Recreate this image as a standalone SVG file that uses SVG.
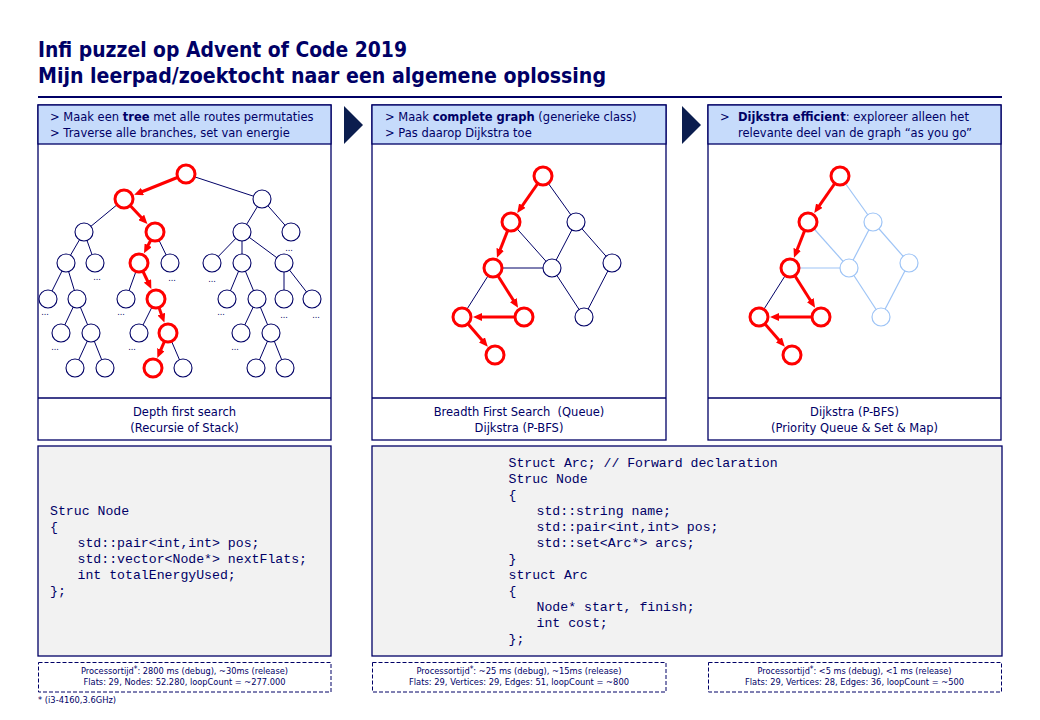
<svg xmlns="http://www.w3.org/2000/svg" width="1040" height="720" viewBox="0 0 1040 720">
<defs>
<style>
text{font-family:"DejaVu Sans",Verdana,sans-serif;fill:#000066}
.title{font-family:"DejaVu Sans Condensed","DejaVu Sans",sans-serif;font-weight:bold;font-size:20.5px}
.t{font-size:11.5px}
.c{text-anchor:middle}
.code{font-family:"Liberation Mono","Courier New",monospace;font-size:13.2px}
.foot{font-family:"DejaVu Sans Condensed","DejaVu Sans",sans-serif;font-size:9px;text-anchor:middle}
.dots{font-size:8px;text-anchor:middle}
.panel{fill:#fff;stroke:#000066;stroke-width:1.3}
.head{fill:#c6dbfb;stroke:#000066;stroke-width:1.3}
.codebox{fill:#f2f2f2;stroke:#000066;stroke-width:1.3}
.dash{fill:#fff;stroke:#000066;stroke-width:1;stroke-dasharray:4 2}
.chev{fill:#0b1d4e}
.bn{fill:#fff;stroke:#000066;stroke-width:1.1}
.rn{fill:#fff;stroke:#ff0000;stroke-width:3}
.ln{fill:#fff;stroke:#9ec4f6;stroke-width:1.2}
.be{stroke:#000066;stroke-width:1;fill:none}
.le{stroke:#9ec4f6;stroke-width:1.2;fill:none}
.re{stroke:#ff0000;stroke-width:3;fill:none;marker-end:url(#ah)}
</style>
<marker id="ah" viewBox="0 0 9 8" refX="4" refY="4" markerWidth="9" markerHeight="8" markerUnits="userSpaceOnUse" orient="auto">
<path d="M0,0 L9,4 L0,8 z" fill="#ff0000"/>
</marker>
</defs>
<rect width="1040" height="720" fill="#fff"/>

<g id="title">
<text class="title" x="38" y="57" textLength="369" lengthAdjust="spacingAndGlyphs">Infi puzzel op Advent of Code 2019</text>
<text class="title" x="38" y="83" textLength="568" lengthAdjust="spacingAndGlyphs">Mijn leerpad/zoektocht naar een algemene oplossing</text>
<line x1="38" y1="97" x2="1002" y2="97" stroke="#000066" stroke-width="2"/>
</g>

<!-- Panels -->
<g id="panel1">
<rect class="panel" x="38" y="105" width="293" height="335"/>
<rect class="head" x="38" y="105" width="293" height="39"/>
<line x1="38" y1="398" x2="331" y2="398" stroke="#000066" stroke-width="1.3"/>
<text class="t" x="50" y="121">&gt; Maak een <tspan font-weight="bold">tree</tspan> met alle routes permutaties</text>
<text class="t" x="50" y="137">&gt; Traverse alle branches, set van energie</text>
<text class="t c" x="184.5" y="416">Depth first search</text>
<text class="t c" x="184.5" y="432">(Recursie of Stack)</text>
</g>
<g id="panel2">
<rect class="panel" x="372" y="105" width="294" height="335"/>
<rect class="head" x="372" y="105" width="294" height="39"/>
<line x1="372" y1="398" x2="666" y2="398" stroke="#000066" stroke-width="1.3"/>
<text class="t" x="385" y="121">&gt; Maak <tspan font-weight="bold">complete graph</tspan> (generieke class)</text>
<text class="t" x="385" y="137">&gt; Pas daarop Dijkstra toe</text>
<text class="t c" x="519" y="416">Breadth First Search &#160;(Queue)</text>
<text class="t c" x="519" y="432">Dijkstra (P-BFS)</text>
</g>
<g id="panel3">
<rect class="panel" x="708" y="105" width="293" height="335"/>
<rect class="head" x="708" y="105" width="293" height="39"/>
<line x1="708" y1="398" x2="1001" y2="398" stroke="#000066" stroke-width="1.3"/>
<text class="t" x="720" y="121">&gt;</text>
<text class="t" x="738" y="121"><tspan font-weight="bold">Dijkstra efficient</tspan>: exploreer alleen het</text>
<text class="t" x="738" y="137">relevante deel van de graph “as you go”</text>
<text class="t c" x="854.5" y="416">Dijkstra (P-BFS)</text>
<text class="t c" x="854.5" y="432">(Priority Queue &amp; Set &amp; Map)</text>
</g>
<g id="chevron1"><polygon class="chev" points="344,106 363,125 344,144"/></g>
<g id="chevron2"><polygon class="chev" points="682,106 701,125 682,144"/></g>

<!-- Connectors -->
<g id="connectors">
<!-- tree (panel 1) -->
<line class="be" x1="186" y1="174" x2="262" y2="199"/>
<line class="be" x1="124" y1="199" x2="84" y2="232"/>
<line class="be" x1="262" y1="199" x2="242" y2="232"/>
<line class="be" x1="262" y1="199" x2="291" y2="232"/>
<line class="be" x1="84" y1="232" x2="66" y2="263"/>
<line class="be" x1="84" y1="232" x2="95" y2="263"/>
<line class="be" x1="155" y1="232" x2="170" y2="263"/>
<line class="be" x1="242" y1="232" x2="212" y2="263"/>
<line class="be" x1="242" y1="232" x2="242" y2="263"/>
<line class="be" x1="242" y1="232" x2="284" y2="263"/>
<line class="be" x1="66" y1="263" x2="48" y2="299"/>
<line class="be" x1="66" y1="263" x2="77" y2="299"/>
<line class="be" x1="139" y1="263" x2="126" y2="299"/>
<line class="be" x1="242" y1="263" x2="227" y2="299"/>
<line class="be" x1="242" y1="263" x2="257" y2="299"/>
<line class="be" x1="284" y1="263" x2="284" y2="299"/>
<line class="be" x1="284" y1="263" x2="312" y2="299"/>
<line class="be" x1="77" y1="299" x2="61" y2="333"/>
<line class="be" x1="77" y1="299" x2="91" y2="333"/>
<line class="be" x1="156" y1="299" x2="139" y2="333"/>
<line class="be" x1="257" y1="299" x2="241" y2="333"/>
<line class="be" x1="257" y1="299" x2="271" y2="333"/>
<line class="be" x1="91" y1="333" x2="75" y2="368"/>
<line class="be" x1="91" y1="333" x2="105" y2="368"/>
<line class="be" x1="168" y1="333" x2="183" y2="368"/>
<line class="be" x1="271" y1="333" x2="256" y2="368"/>
<line class="be" x1="271" y1="333" x2="285" y2="368"/>
<line class="re" x1="186" y1="174" x2="138.8" y2="193.0"/>
<line class="re" x1="124" y1="199" x2="144.0" y2="220.3"/>
<line class="re" x1="155" y1="232" x2="146.3" y2="248.8"/>
<line class="re" x1="139" y1="263" x2="149.2" y2="284.5"/>
<line class="re" x1="156" y1="299" x2="162.7" y2="317.9"/>
<line class="re" x1="168" y1="333" x2="159.3" y2="353.3"/>
<!-- graph (panel 2) -->
<line class="be" x1="543" y1="176" x2="576" y2="222"/>
<line class="be" x1="511" y1="222" x2="552" y2="268"/>
<line class="be" x1="576" y1="222" x2="552" y2="268"/>
<line class="be" x1="576" y1="222" x2="612" y2="263"/>
<line class="be" x1="493" y1="268" x2="552" y2="268"/>
<line class="be" x1="493" y1="268" x2="462" y2="317"/>
<line class="be" x1="552" y1="268" x2="584" y2="317"/>
<line class="be" x1="612" y1="263" x2="584" y2="317"/>
<line class="re" x1="543" y1="176" x2="520.1" y2="208.9"/>
<line class="re" x1="511" y1="222" x2="498.8" y2="253.1"/>
<line class="re" x1="493" y1="268" x2="515.4" y2="303.5"/>
<line class="re" x1="524" y1="317" x2="478" y2="317"/>
<line class="re" x1="462" y1="317" x2="484.5" y2="342.9"/>
<!-- graph (panel 3) -->
<g transform="translate(297,0)">
<line class="le" x1="543" y1="176" x2="576" y2="222"/>
<line class="le" x1="511" y1="222" x2="552" y2="268"/>
<line class="le" x1="576" y1="222" x2="552" y2="268"/>
<line class="le" x1="576" y1="222" x2="612" y2="263"/>
<line class="le" x1="493" y1="268" x2="552" y2="268"/>
<line class="be" x1="493" y1="268" x2="462" y2="317"/>
<line class="le" x1="552" y1="268" x2="584" y2="317"/>
<line class="le" x1="612" y1="263" x2="584" y2="317"/>
<line class="re" x1="543" y1="176" x2="520.1" y2="208.9"/>
<line class="re" x1="511" y1="222" x2="498.8" y2="253.1"/>
<line class="re" x1="493" y1="268" x2="515.4" y2="303.5"/>
<line class="re" x1="524" y1="317" x2="478" y2="317"/>
<line class="re" x1="462" y1="317" x2="484.5" y2="342.9"/>
</g>
</g>

<!-- Tree nodes (panel 1) -->
<g id="tree-nodes">
<g id="t-root"><circle class="rn" cx="186" cy="174" r="9"/></g>
<g id="t-a"><circle class="rn" cx="124" cy="199" r="9"/></g>
<g id="t-b"><circle class="bn" cx="262" cy="199" r="9"/></g>
<g id="t-aa"><circle class="bn" cx="84" cy="232" r="9"/></g>
<g id="t-ab"><circle class="rn" cx="155" cy="232" r="9"/></g>
<g id="t-ba"><circle class="bn" cx="242" cy="232" r="9"/></g>
<g id="t-bb"><circle class="bn" cx="291" cy="232" r="9"/><text class="dots" x="289" y="251">...</text></g>
<g id="t-aaa"><circle class="bn" cx="66" cy="263" r="9"/></g>
<g id="t-aab"><circle class="bn" cx="95" cy="263" r="9"/><text class="dots" x="97" y="280">...</text></g>
<g id="t-aba"><circle class="rn" cx="139" cy="263" r="9"/></g>
<g id="t-abb"><circle class="bn" cx="170" cy="263" r="9"/><text class="dots" x="172" y="281">...</text></g>
<g id="t-baa"><circle class="bn" cx="212" cy="263" r="9"/><text class="dots" x="212" y="282">...</text></g>
<g id="t-bab"><circle class="bn" cx="242" cy="263" r="9"/></g>
<g id="t-bac"><circle class="bn" cx="284" cy="263" r="9"/></g>
<g id="t-l4a"><circle class="bn" cx="48" cy="299" r="9"/><text class="dots" x="45" y="315">...</text></g>
<g id="t-l4b"><circle class="bn" cx="77" cy="299" r="9"/></g>
<g id="t-l4c"><circle class="bn" cx="126" cy="299" r="9"/><text class="dots" x="121" y="315">...</text></g>
<g id="t-l4d"><circle class="rn" cx="156" cy="299" r="9"/></g>
<g id="t-l4e"><circle class="bn" cx="227" cy="299" r="9"/><text class="dots" x="221" y="315">...</text></g>
<g id="t-l4f"><circle class="bn" cx="257" cy="299" r="9"/></g>
<g id="t-l4g"><circle class="bn" cx="284" cy="299" r="9"/><text class="dots" x="284" y="318">...</text></g>
<g id="t-l4h"><circle class="bn" cx="312" cy="299" r="9"/><text class="dots" x="316" y="318">...</text></g>
<g id="t-l5a"><circle class="bn" cx="61" cy="333" r="9"/><text class="dots" x="55" y="350">...</text></g>
<g id="t-l5b"><circle class="bn" cx="91" cy="333" r="9"/></g>
<g id="t-l5c"><circle class="bn" cx="139" cy="333" r="9"/><text class="dots" x="132" y="350">...</text></g>
<g id="t-l5d"><circle class="rn" cx="168" cy="333" r="9"/></g>
<g id="t-l5e"><circle class="bn" cx="241" cy="333" r="9"/><text class="dots" x="235" y="350">...</text></g>
<g id="t-l5f"><circle class="bn" cx="271" cy="333" r="9"/></g>
<g id="t-l6a"><circle class="bn" cx="75" cy="368" r="9"/></g>
<g id="t-l6b"><circle class="bn" cx="105" cy="368" r="9"/></g>
<g id="t-l6c"><circle class="rn" cx="153" cy="368" r="9"/></g>
<g id="t-l6d"><circle class="bn" cx="183" cy="368" r="9"/></g>
<g id="t-l6e"><circle class="bn" cx="256" cy="368" r="9"/></g>
<g id="t-l6f"><circle class="bn" cx="285" cy="368" r="9"/></g>
</g>

<!-- Graph nodes (panel 2) -->
<g id="g2-nodes">
<g id="g2-A"><circle class="rn" cx="543" cy="176" r="9"/></g>
<g id="g2-B"><circle class="rn" cx="511" cy="222" r="9"/></g>
<g id="g2-C"><circle class="rn" cx="493" cy="268" r="9"/></g>
<g id="g2-D"><circle class="rn" cx="462" cy="317" r="9"/></g>
<g id="g2-E"><circle class="rn" cx="524" cy="317" r="9"/></g>
<g id="g2-F"><circle class="rn" cx="495" cy="355" r="9"/></g>
<g id="g2-G"><circle class="bn" cx="576" cy="222" r="9"/></g>
<g id="g2-H"><circle class="bn" cx="552" cy="268" r="9"/></g>
<g id="g2-I"><circle class="bn" cx="612" cy="263" r="9"/></g>
<g id="g2-J"><circle class="bn" cx="584" cy="317" r="9"/></g>
</g>

<!-- Graph nodes (panel 3) -->
<g id="g3-nodes" transform="translate(297,0)">
<g id="g3-A"><circle class="rn" cx="543" cy="176" r="9"/></g>
<g id="g3-B"><circle class="rn" cx="511" cy="222" r="9"/></g>
<g id="g3-C"><circle class="rn" cx="493" cy="268" r="9"/></g>
<g id="g3-D"><circle class="rn" cx="462" cy="317" r="9"/></g>
<g id="g3-E"><circle class="rn" cx="524" cy="317" r="9"/></g>
<g id="g3-F"><circle class="rn" cx="495" cy="355" r="9"/></g>
<g id="g3-G"><circle class="ln" cx="576" cy="222" r="9"/></g>
<g id="g3-H"><circle class="ln" cx="552" cy="268" r="9"/></g>
<g id="g3-I"><circle class="ln" cx="612" cy="263" r="9"/></g>
<g id="g3-J"><circle class="ln" cx="584" cy="317" r="9"/></g>
</g>

<!-- Code boxes -->
<g id="code1">
<rect class="codebox" x="38" y="446" width="293" height="210"/>
<text class="code" x="50" y="515">Struc Node</text>
<text class="code" x="50" y="531">{</text>
<text class="code" x="77.5" y="547">std::pair&lt;int,int&gt; pos;</text>
<text class="code" x="77.5" y="563">std::vector&lt;Node*&gt; nextFlats;</text>
<text class="code" x="77.5" y="579">int totalEnergyUsed;</text>
<text class="code" x="50" y="595">};</text>
</g>
<g id="code2">
<rect class="codebox" x="372" y="446" width="630" height="210"/>
<text class="code" x="508.5" y="467">Struct Arc; // Forward declaration</text>
<text class="code" x="508.5" y="483">Struc Node</text>
<text class="code" x="508.5" y="499">{</text>
<text class="code" x="536.5" y="515">std::string name;</text>
<text class="code" x="536.5" y="531">std::pair&lt;int,int&gt; pos;</text>
<text class="code" x="536.5" y="547">std::set&lt;Arc*&gt; arcs;</text>
<text class="code" x="508.5" y="563">}</text>
<text class="code" x="508.5" y="579">struct Arc</text>
<text class="code" x="508.5" y="595">{</text>
<text class="code" x="536.5" y="611">Node* start, finish;</text>
<text class="code" x="536.5" y="627">int cost;</text>
<text class="code" x="508.5" y="643">};</text>
</g>

<!-- Footer boxes -->
<g id="foot1">
<rect class="dash" x="38.5" y="662.5" width="292.5" height="29.5"/>
<text class="foot" x="184.5" y="673.5" textLength="207" lengthAdjust="spacingAndGlyphs">Processortijd<tspan baseline-shift="30%" font-size="8">*</tspan>: 2800 ms (debug), ~30ms (release)</text>
<text class="foot" x="184.5" y="684.5" textLength="202" lengthAdjust="spacingAndGlyphs">Flats: 29, Nodes: 52.280, loopCount = ~277.000</text>
</g>
<g id="foot2">
<rect class="dash" x="372.5" y="662.5" width="293.5" height="29.5"/>
<text class="foot" x="519" y="673.5" textLength="205" lengthAdjust="spacingAndGlyphs">Processortijd<tspan baseline-shift="30%" font-size="8">*</tspan>: ~25 ms (debug), ~15ms (release)</text>
<text class="foot" x="519" y="684.5" textLength="220" lengthAdjust="spacingAndGlyphs">Flats: 29, Vertices: 29, Edges: 51, loopCount = ~800</text>
</g>
<g id="foot3">
<rect class="dash" x="708.5" y="662.5" width="293" height="29.5"/>
<text class="foot" x="854.5" y="673.5" textLength="194" lengthAdjust="spacingAndGlyphs">Processortijd<tspan baseline-shift="30%" font-size="8">*</tspan>: &lt;5 ms (debug), &lt;1 ms (release)</text>
<text class="foot" x="854.5" y="684.5" textLength="219" lengthAdjust="spacingAndGlyphs">Flats: 29, Vertices: 28, Edges: 36, loopCount = ~500</text>
</g>
<g id="footnote">
<text x="38" y="703" style="font-family:'DejaVu Sans Condensed','DejaVu Sans',sans-serif;font-size:9px" textLength="78" lengthAdjust="spacingAndGlyphs">* (i3-4160,3.6GHz)</text>
</g>
</svg>
